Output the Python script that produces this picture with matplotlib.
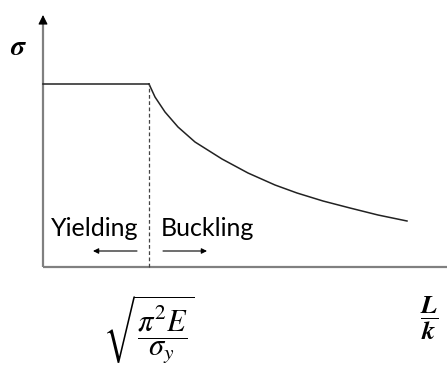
import numpy as np
import matplotlib
matplotlib.use('Agg')
import matplotlib.pyplot as plt

plt.rcParams['mathtext.fontset'] = 'stix'

# slenderness ratio L/k vs stress (arbitrary units)
yield_x = [0, 106]
yield_y = [183, 183]
buckle_x = [106, 112, 122, 135, 152, 179, 205, 232, 254, 280, 307, 335, 364]
buckle_y = [183, 170, 155, 140, 125, 108, 94, 82, 74, 66, 59, 52, 46]
critical_x = 106
x_max = 404
y_max = 252

fig = plt.figure(figsize=(4.47, 3.74), dpi=100)
ax = fig.add_axes([0, 0, 1, 1])
ax.set_xlim(-43, 404)
ax.set_ylim(-107, 267)
ax.axis('off')

axis_col = '#808080'
# axes
ax.plot([0, x_max], [0, 0], color=axis_col, lw=1.6, solid_capstyle='butt')
ax.plot([0, 0], [0, y_max - 6], color=axis_col, lw=1.6, solid_capstyle='butt')
ax.annotate('', xy=(0, y_max), xytext=(0, y_max - 8),
            arrowprops=dict(arrowstyle='-|>', color='black', lw=0.8,
                            mutation_scale=14, shrinkA=0, shrinkB=0))

# curves
ax.plot(yield_x, yield_y, color='#222222', lw=1.1)
ax.plot(buckle_x, buckle_y, color='#222222', lw=1.1, solid_joinstyle='round')
ax.plot([critical_x, critical_x], [0, yield_y[1]], color='#444444', lw=0.9,
        ls=(0, (3, 2)))

# region labels
ax.text(52, 39, 'Yielding', fontsize=18, family='Lato', ha='center', va='center')
ax.text(164, 39, 'Buckling', fontsize=18, family='Lato', ha='center', va='center')
ax.annotate('', xy=(50, 16), xytext=(94, 16),
            arrowprops=dict(arrowstyle='-|>', color='black', lw=0.8,
                            mutation_scale=8, shrinkA=0, shrinkB=0))
ax.annotate('', xy=(164, 16), xytext=(120, 16),
            arrowprops=dict(arrowstyle='-|>', color='black', lw=0.8,
                            mutation_scale=8, shrinkA=0, shrinkB=0))

# axis labels
ax.text(-25, 220, r'$\mathbfit{\sigma}$', fontsize=20, ha='center', va='center')
ax.text(386, -51, r'$\mathbfit{\dfrac{L}{k}}$', fontsize=19, ha='center', va='center')
ax.text(critical_x, -63, r'$\sqrt{\dfrac{\pi^2 E}{\sigma_y}}$', fontsize=22,
        ha='center', va='center')

fig.savefig('out.png', dpi=100)
